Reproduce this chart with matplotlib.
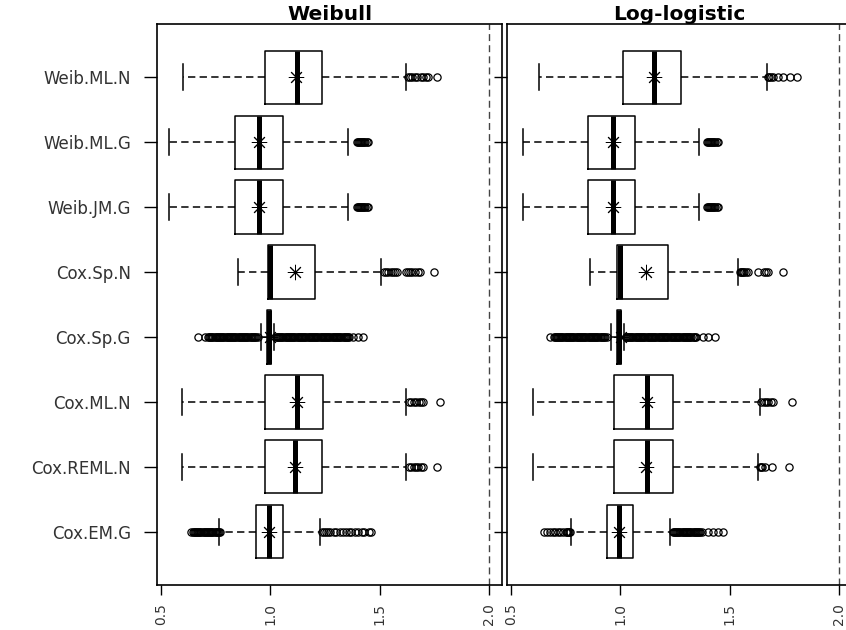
import numpy as np
import matplotlib
matplotlib.use("Agg")
import matplotlib.pyplot as plt

# groups, top to bottom as in the figure
labels = ["Weib.ML.N", "Weib.ML.G", "Weib.JM.G", "Cox.Sp.N",
          "Cox.Sp.G", "Cox.ML.N", "Cox.REML.N", "Cox.EM.G"]
titles = ["Weibull", "Log-logistic"]
xticks = [0.5, 1.0, 1.5, 2.0]
ref_value = 2.0

#####
# Weibull panel
#####
weib_whislo = [0.602, 0.538, 0.538, 0.853, 0.957, 0.597, 0.597, 0.766]
weib_q1 = [0.975, 0.838, 0.838, 0.990, 0.983, 0.975, 0.975, 0.934]
weib_med = [1.120, 0.949, 0.949, 1.000, 0.995, 1.120, 1.112, 0.993]
weib_q3 = [1.234, 1.058, 1.058, 1.202, 1.005, 1.241, 1.235, 1.058]
weib_whishi = [1.622, 1.357, 1.357, 1.508, 1.018, 1.622, 1.622, 1.227]
weib_mean = [1.118, 0.947, 0.947, 1.112, 1.000, 1.120, 1.112, 0.995]
weib_fliers = [
    [1.63, 1.64, 1.65, 1.66, 1.67, 1.69, 1.70, 1.71, 1.72, 1.76],
    [1.395, 1.40, 1.405, 1.41, 1.415, 1.42, 1.425, 1.43, 1.435, 1.44,
     1.445],
    [1.395, 1.40, 1.405, 1.41, 1.415, 1.42, 1.425, 1.43, 1.435, 1.44,
     1.445],
    [1.52, 1.53, 1.54, 1.55, 1.56, 1.57, 1.58, 1.62, 1.63, 1.64, 1.65,
     1.66, 1.675, 1.685, 1.75],
    [0.67, 0.70, 0.716, 0.72, 0.725, 0.73, 0.735, 0.74, 0.745, 0.75,
     0.755, 0.76, 0.765, 0.77, 0.775, 0.78, 0.785, 0.79, 0.795, 0.80,
     0.805, 0.81, 0.815, 0.82, 0.825, 0.83, 0.835, 0.84, 0.845, 0.85,
     0.855, 0.86, 0.865, 0.87, 0.875, 0.88, 0.885, 0.89, 0.895, 0.90,
     0.905, 0.91, 0.915, 0.92, 0.925, 0.93, 0.935, 0.944,
     1.025, 1.03, 1.035, 1.04, 1.045, 1.05, 1.055, 1.06, 1.065, 1.07,
     1.075, 1.08, 1.085, 1.09, 1.095, 1.10, 1.105, 1.11, 1.115, 1.12,
     1.125, 1.13, 1.135, 1.14, 1.145, 1.15, 1.155, 1.16, 1.165, 1.17,
     1.175, 1.18, 1.185, 1.19, 1.195, 1.20, 1.205, 1.21, 1.215, 1.22,
     1.225, 1.23, 1.235, 1.24, 1.245, 1.25, 1.255, 1.26, 1.265, 1.27,
     1.275, 1.28, 1.285, 1.29, 1.295, 1.30, 1.305, 1.31, 1.315, 1.32,
     1.325, 1.33, 1.335, 1.34, 1.345, 1.35, 1.355, 1.36,
     1.38, 1.40, 1.425],
    [1.635, 1.645, 1.655, 1.665, 1.68, 1.69, 1.70, 1.775],
    [1.635, 1.645, 1.655, 1.665, 1.675, 1.69, 1.70, 1.76],
    [0.636, 0.645, 0.65, 0.655, 0.66, 0.665, 0.67, 0.675, 0.68, 0.685,
     0.69, 0.695, 0.70, 0.705, 0.71, 0.715, 0.72, 0.725, 0.73, 0.735,
     0.74, 0.745, 0.75, 0.755, 0.76, 0.765, 0.77,
     1.235, 1.245, 1.255, 1.265, 1.275, 1.29, 1.30, 1.32, 1.33, 1.345,
     1.36, 1.37, 1.385, 1.40, 1.42, 1.43, 1.45, 1.46],
]

#####
# Log-logistic panel
#####
llog_whislo = [0.628, 0.553, 0.553, 0.861, 0.957, 0.602, 0.602, 0.773]
llog_q1 = [1.014, 0.854, 0.854, 0.986, 0.983, 0.972, 0.972, 0.940]
llog_med = [1.152, 0.968, 0.968, 0.998, 0.995, 1.120, 1.120, 0.994]
llog_q3 = [1.276, 1.067, 1.067, 1.219, 1.005, 1.242, 1.242, 1.056]
llog_whishi = [1.669, 1.361, 1.361, 1.539, 1.018, 1.639, 1.631, 1.227]
llog_mean = [1.155, 0.966, 0.966, 1.116, 1.002, 1.120, 1.116, 0.992]
llog_fliers = [
    [1.675, 1.68, 1.69, 1.70, 1.72, 1.745, 1.775, 1.81],
    [1.395, 1.40, 1.405, 1.41, 1.415, 1.42, 1.425, 1.43, 1.435, 1.44,
     1.445],
    [1.395, 1.40, 1.405, 1.41, 1.415, 1.42, 1.425, 1.43, 1.435, 1.44,
     1.445],
    [1.545, 1.55, 1.555, 1.56, 1.565, 1.575, 1.585, 1.63, 1.655, 1.665,
     1.675, 1.745],
    [0.678, 0.695, 0.70, 0.705, 0.71, 0.715, 0.72, 0.725, 0.73, 0.735,
     0.74, 0.745, 0.75, 0.755, 0.76, 0.765, 0.77, 0.775, 0.78, 0.785,
     0.79, 0.795, 0.80, 0.805, 0.81, 0.815, 0.82, 0.825, 0.83, 0.835,
     0.84, 0.845, 0.85, 0.855, 0.86, 0.865, 0.87, 0.875, 0.88, 0.885,
     0.89, 0.895, 0.90, 0.905, 0.91, 0.915, 0.92, 0.925, 0.93, 0.94,
     1.025, 1.03, 1.035, 1.04, 1.045, 1.05, 1.055, 1.06, 1.065, 1.07,
     1.075, 1.08, 1.085, 1.09, 1.095, 1.10, 1.105, 1.11, 1.115, 1.12,
     1.125, 1.13, 1.135, 1.14, 1.145, 1.15, 1.155, 1.16, 1.165, 1.17,
     1.175, 1.18, 1.185, 1.19, 1.195, 1.20, 1.205, 1.21, 1.215, 1.22,
     1.225, 1.23, 1.235, 1.24, 1.245, 1.25, 1.255, 1.26, 1.265, 1.27,
     1.275, 1.28, 1.285, 1.29, 1.295, 1.30, 1.305, 1.31, 1.315, 1.32,
     1.325, 1.33, 1.335, 1.34, 1.348,
     1.38, 1.402, 1.433],
    [1.645, 1.655, 1.665, 1.675, 1.69, 1.70, 1.785],
    [1.64, 1.645, 1.65, 1.66, 1.695, 1.77],
    [0.652, 0.665, 0.678, 0.69, 0.70, 0.715, 0.725, 0.74, 0.75, 0.755,
     0.76, 0.765, 0.77,
     1.24, 1.245, 1.25, 1.255, 1.26, 1.265, 1.27, 1.275, 1.28, 1.285,
     1.29, 1.295, 1.30, 1.305, 1.31, 1.315, 1.32, 1.325, 1.33, 1.335,
     1.34, 1.345, 1.35, 1.355, 1.36, 1.365, 1.372, 1.402, 1.425, 1.448,
     1.471],
]


def make_stats(whislo, q1, med, q3, whishi, mean, fliers):
    stats = []
    for i in range(len(labels)):
        stats.append(dict(whislo=whislo[i], q1=q1[i], med=med[i], q3=q3[i],
                          whishi=whishi[i], mean=mean[i],
                          fliers=np.array(fliers[i])))
    return stats


panels = [
    make_stats(weib_whislo, weib_q1, weib_med, weib_q3, weib_whishi,
               weib_mean, weib_fliers),
    make_stats(llog_whislo, llog_q1, llog_med, llog_q3, llog_whishi,
               llog_mean, llog_fliers),
]

positions = np.arange(len(labels), 0, -1)

fig = plt.figure(figsize=(8.46, 6.3), dpi=100)
ax_w = 345 / 846
ax_h = 561 / 630
axes = [fig.add_axes([157 / 846, 45 / 630, ax_w, ax_h]),
        fig.add_axes([507 / 846, 45 / 630, ax_w, ax_h])]

for k, ax in enumerate(axes):
    ax.bxp(panels[k], positions=positions, widths=0.82, capwidths=0.4,
           orientation="horizontal", showmeans=True, manage_ticks=False,
           boxprops=dict(color="black", lw=1.1),
           whiskerprops=dict(color="black", lw=1.1, ls=(0, (4.8, 2.8))),
           capprops=dict(color="black", lw=1.1),
           medianprops=dict(color="black", lw=3.6, solid_capstyle="butt"),
           meanprops=dict(marker=(8, 2, 0), markeredgecolor="black",
                          markersize=11, markeredgewidth=0.7,
                          linestyle="none"),
           flierprops=dict(marker="o", markerfacecolor="none",
                           markeredgecolor="black", markersize=5.2,
                           markeredgewidth=0.9, linestyle="none"))
    ax.axvline(ref_value, color="#444444", lw=1.0, ls=(0, (5, 3)), zorder=0)
    ax.set_xlim(0.4817, 2.0594)
    ax.set_ylim(0.18, 8.82)
    ax.set_xticks(xticks)
    ax.set_xticklabels([f"{t:.1f}" for t in xticks])
    ax.set_yticks(positions)
    if k == 0:
        ax.set_yticklabels(labels)
    else:
        ax.set_yticklabels([])
    ax.tick_params(axis="y", length=9.4, width=1.0, pad=9.4, labelsize=12,
                   labelcolor="#333333")
    ax.tick_params(axis="x", length=7.2, width=1.0, pad=5.8, labelsize=10,
                   labelrotation=90, labelcolor="#333333")
    for s in ax.spines.values():
        s.set_linewidth(1.2)
    ax.set_title(titles[k], fontsize=14.5, fontweight="bold", pad=2.5)

fig.savefig("out.png", dpi=100)
